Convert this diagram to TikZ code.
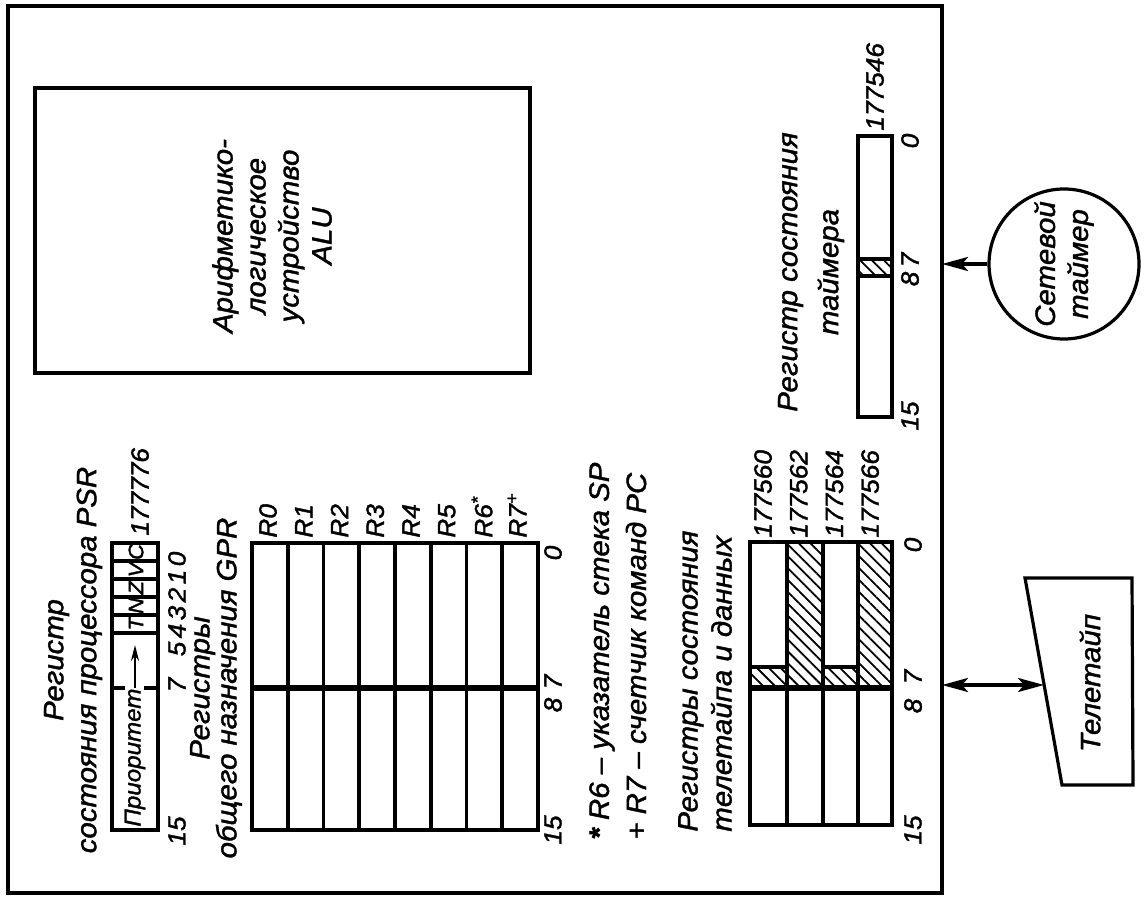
\documentclass[tikz,border=0pt]{standalone}
\usepackage{fontspec}
\setmainfont{Liberation Sans}[FakeStretch=1.05,FakeBold=1.5]
\usetikzlibrary{arrows.meta,patterns.meta}

\begin{document}
\begin{tikzpicture}[x=0.5pt,y=-0.5pt,
  box/.style={line width=1.8pt},
  midline/.style={line width=2.6pt},
  txt/.style={rotate=90,inner sep=0pt,font=\itshape\fontsize{14}{16.5}\selectfont},
  num/.style={rotate=90,inner sep=0pt,font=\itshape\fontsize{12.5}{14}\selectfont},
  flag/.style={rotate=90,inner sep=0pt,font=\itshape\fontsize{10.5}{12}\selectfont},
  hatch/.style={pattern={Lines[angle=-45,distance=4.2pt,line width=0.9pt]}},
  tip/.style={-{Stealth[length=13pt,width=7pt,inset=3pt]}},
  arr/.style={line width=1.6pt,tip}]
  \useasboundingbox (0,0) rectangle (1144,897);
  \draw[line width=1.6pt] (8,6) rectangle (942,893);
  \coordinate (bus) at (942,0);

  \draw[line width=1.6pt] (35,88) rectangle (530,373);
  \node[txt,align=center] (alu) at (272,236) {Арифметико-\\логическое\\устройство\\ALU};

  \node[txt,align=center] (psrtitle) at (73,660) {Регистр\\состояния процессора PSR};
  \draw[box] (112,543) rectangle (158,830);
  \foreach \b in {1,...,5} \draw[box] (112,543+17.94*\b) -- (158,543+17.94*\b);
  \foreach \b/\l in {0/C,1/V,2/Z,3/N,4/T} \node[flag] at (136,552+17.94*\b) {\l};
  \draw[box] (112,688) -- (125,688) (144,688) -- (158,688);
  \node[flag,anchor=west,font=\itshape\fontsize{11.5}{13}\selectfont] (prio) at (135,827) {Приоритет};
  \coordinate (priotip) at (135,645);
  \draw[line width=1pt,-{Stealth[length=8pt,width=4pt]}] (prio) -- (priotip);
  \node[num,anchor=west] (psraddr) at (140,536) {177776};
  \foreach \k in {0,...,5,7} \node[num] at (177,559+18*\k) {\k};
  \node[num] at (177,831) {15};

  \node[txt,align=center] (gprtitle) at (216,688) {Регистры\\[-3pt]общего назначения GPR};
  \draw[box] (252,543) rectangle (538,830);
  \foreach \i in {1,...,7} \draw[box] (252+35.75*\i,543) -- (252+35.75*\i,830);
  \draw[midline] (252,688) -- (538,688);
  \foreach \i in {0,...,5} \node[num,anchor=west] at (268+35.75*\i,538) {R\i};
  \node[num,anchor=west] (r6) at (482,538) {R6\textsuperscript{*}};
  \node[num,anchor=west] (r7) at (517,538) {R7\textsuperscript{+}};
  \node[num] at (553,553) {0};
  \node[num] at (553,682) {7};
  \node[num] at (553,705) {8};
  \node[num] at (553,830) {15};

  \node[txt,anchor=west] (sp) at (602,840) {\textbf{*} R6 – указатель стека SP};
  \node[txt,anchor=west] (pc) at (636,840) {+ R7 – счетчик команд PC};

  \node[txt,anchor=west,align=left] (ttytitle) at (705,832) {Регистры состояния\\[0.5pt]телетайпа и данных};
  \fill[hatch] (750,667) rectangle (787,688) (787,542) rectangle (823,688)
    (823,667) rectangle (858,688) (858,542) rectangle (892,688);
  \draw[box] (750,667) -- (787,667) (823,667) -- (858,667);
  \draw[box] (750,542) rectangle (892,825);
  \foreach \x in {787,823,858} \draw[box] (\x,542) -- (\x,825);
  \draw[midline] (750,688) -- (892,688);
  \foreach \i/\a in {0/177560,1/177562,2/177564,3/177566}
    \node[num,anchor=west] at (763+35.7*\i,538) {\a};
  \node[num] at (913,545) {0};
  \node[num] at (913,677) {7};
  \node[num] at (913,706) {8};
  \node[num] at (913,830) {15};

  \node[txt,align=center] (tmrtitle) at (811,272) {Регистр состояния\\[4pt]таймера};
  \fill[hatch] (858,259) rectangle (892,276);
  \draw[box] (858,259) -- (892,259) (858,276) -- (892,276);
  \draw[box] (858,136) rectangle (892,417);
  \node[num,anchor=west] (tmraddr) at (875,131) {177546};
  \node[num] at (910,141) {0};
  \node[num] at (910,260) {7};
  \node[num] at (910,279) {8};
  \node[num] at (910,416) {15};

  \node[txt,circle,draw,line width=1.6pt,minimum size=75pt,align=center] (net) at (1064,264) {Сетевой\\таймер};
  \draw[arr] (net) -- (net -| bus);

  \draw[line width=1.6pt] (1025,578) -- (1132,578) -- (1133,785) -- (1062,785) -- cycle;
  \coordinate (ttyin) at (1044,685);
  \node[txt] (tty) at (1090,683) {Телетайп};
  \draw[line width=1.6pt,{Stealth[length=13pt,width=7pt,inset=3pt]}-{Stealth[length=13pt,width=7pt,inset=3pt]}] (ttyin) -- (ttyin -| bus);
\end{tikzpicture}
\end{document}
